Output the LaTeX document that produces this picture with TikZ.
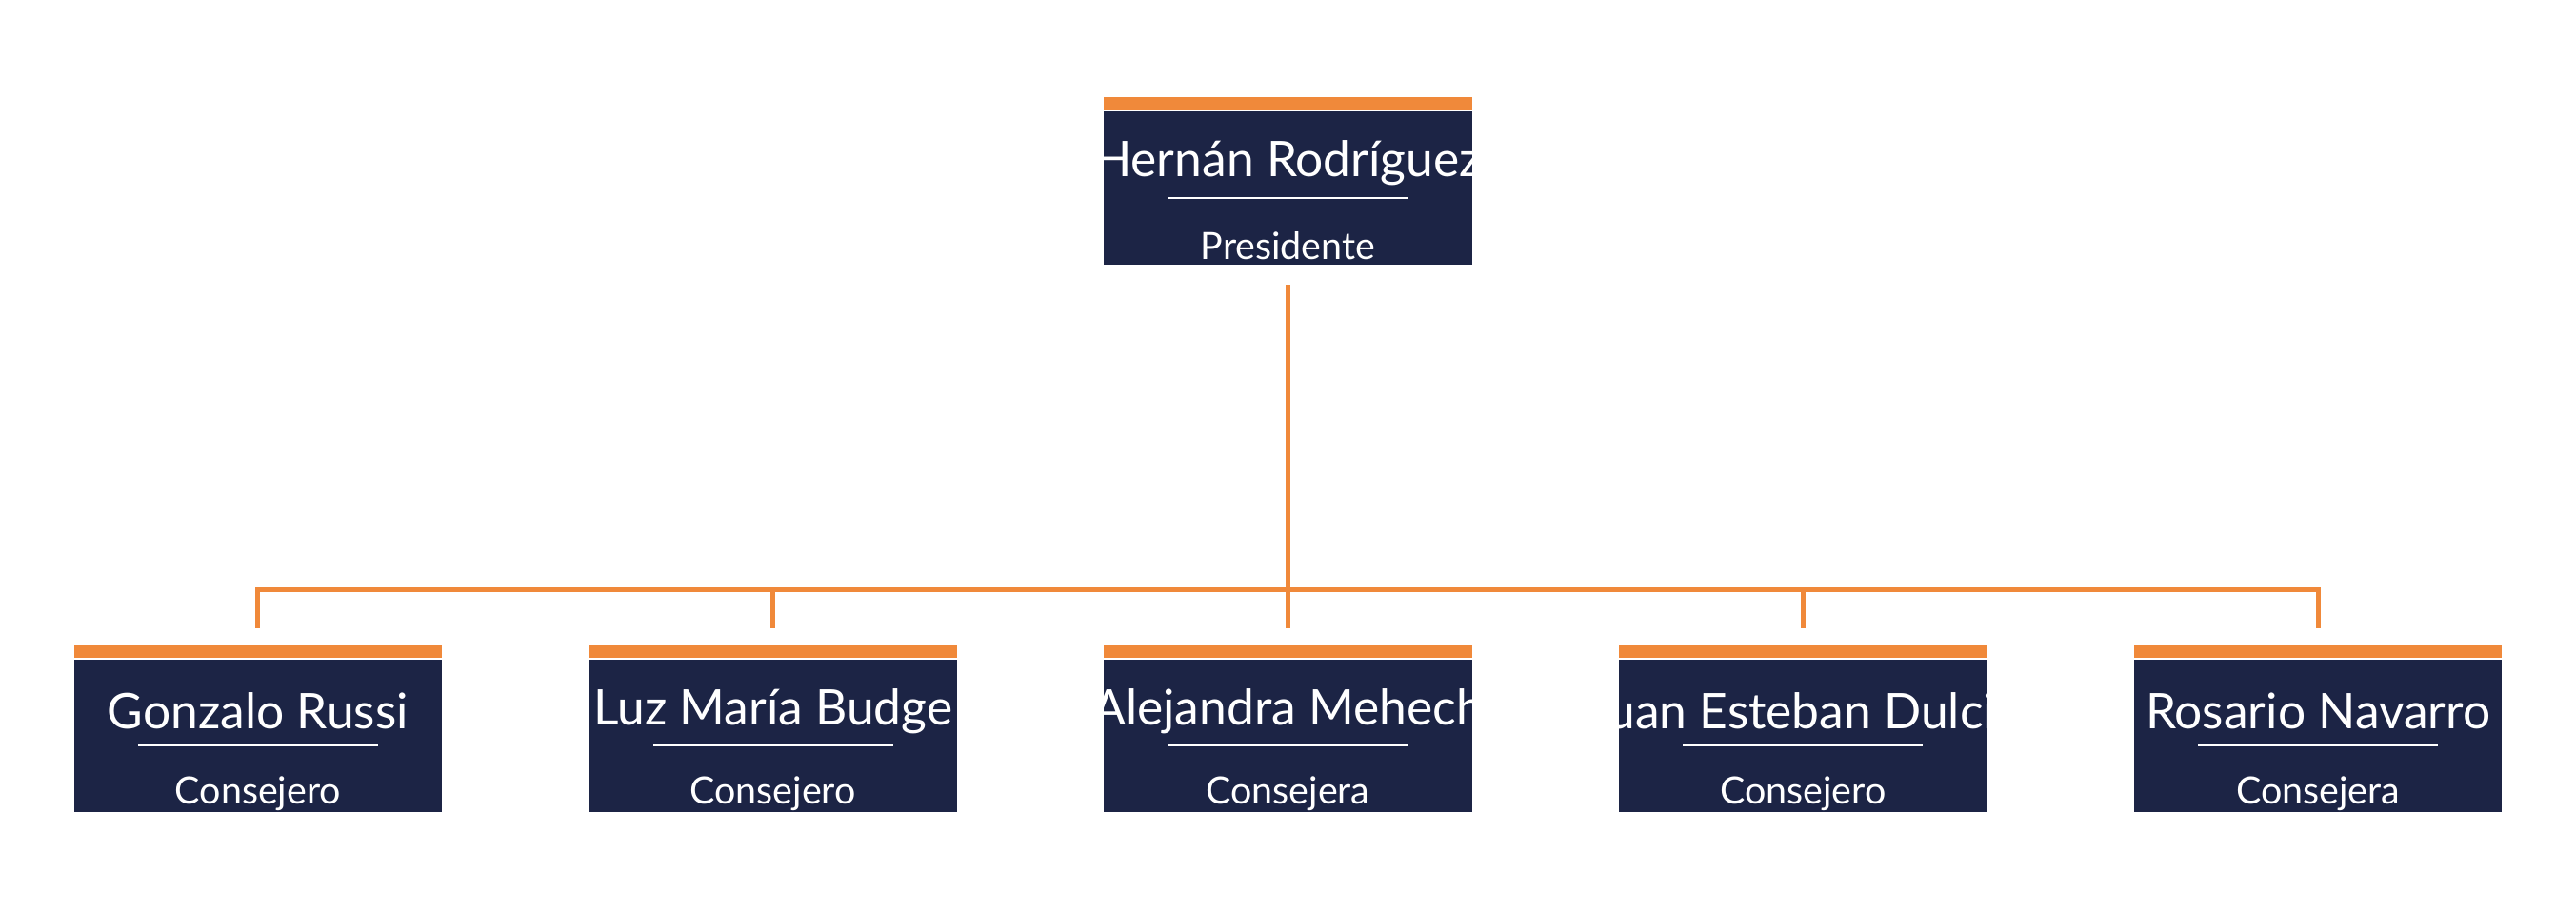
\documentclass[tikz,border=0pt]{standalone}
\usepackage{fontspec}
\setmainfont{Lato}
\usetikzlibrary{positioning}
\definecolor{navy}{HTML}{1C2445}
\definecolor{naranja}{HTML}{F0893A}
\tikzset{
  box/.style={fill=navy, minimum width=4.48cm, minimum height=1.86cm, inner sep=0pt},
  bar/.style={fill=naranja, minimum width=4.48cm, minimum height=0.16cm, inner sep=0pt},
  persname/.style={text=white, font=\fontsize{17}{20}\selectfont, inner sep=0pt},
  roletext/.style={text=white, font=\fontsize{13}{15}\selectfont, inner sep=0pt},
  namerule/.style={white, line width=0.8pt},
  link/.style={naranja, line width=1.6pt}
}
\newcommand{\member}[5]{%
  \node[box] (#1) at (#2) {};
  \node[bar, above=0pt of #1] (#1bar) {};
  \node[persname] (#1name) at ([yshift=0.3cm]#1.center) {#3};
  \draw[namerule] ([xshift=-1.46cm,yshift=-0.42cm]#1name.center) -- ([xshift=1.46cm,yshift=-0.42cm]#1name.center);
  \node[roletext] (#1role) at ([yshift=-0.7cm]#1.center) {#4};
  \coordinate (#1top) at ([yshift=#5]#1bar.north);
}
\begin{document}
\begin{tikzpicture}
  \useasboundingbox (0,0) rectangle (31.36,-11.1);
  \member{pres}{15.68,-2.29}{Hernán Rodríguez}{Presidente}{0cm}
  \member{gonzalo}{3.14,-8.96}{Gonzalo Russi}{Consejero}{0.2cm}
  \member{luz}{9.41,-8.96}{Luz María Budge}{Consejero}{0.2cm}
  \member{alejandra}{15.68,-8.96}{Alejandra Mehech}{Consejera}{0.2cm}
  \member{juan}{21.95,-8.96}{Juan Esteban Dulcic}{Consejero}{0.2cm}
  \member{rosario}{28.22,-8.96}{Rosario Navarro}{Consejera}{0.2cm}
  \coordinate (hub) at (15.68,-7.18);
  \coordinate (presfoot) at ([yshift=-0.24cm]pres.south);
  \draw[link] (presfoot) -- (alejandratop);
  \draw[link] (gonzalotop) |- (hub) -| (rosariotop);
  \draw[link] (luztop) -- (luztop |- hub);
  \draw[link] (juantop) -- (juantop |- hub);
\end{tikzpicture}
\end{document}
